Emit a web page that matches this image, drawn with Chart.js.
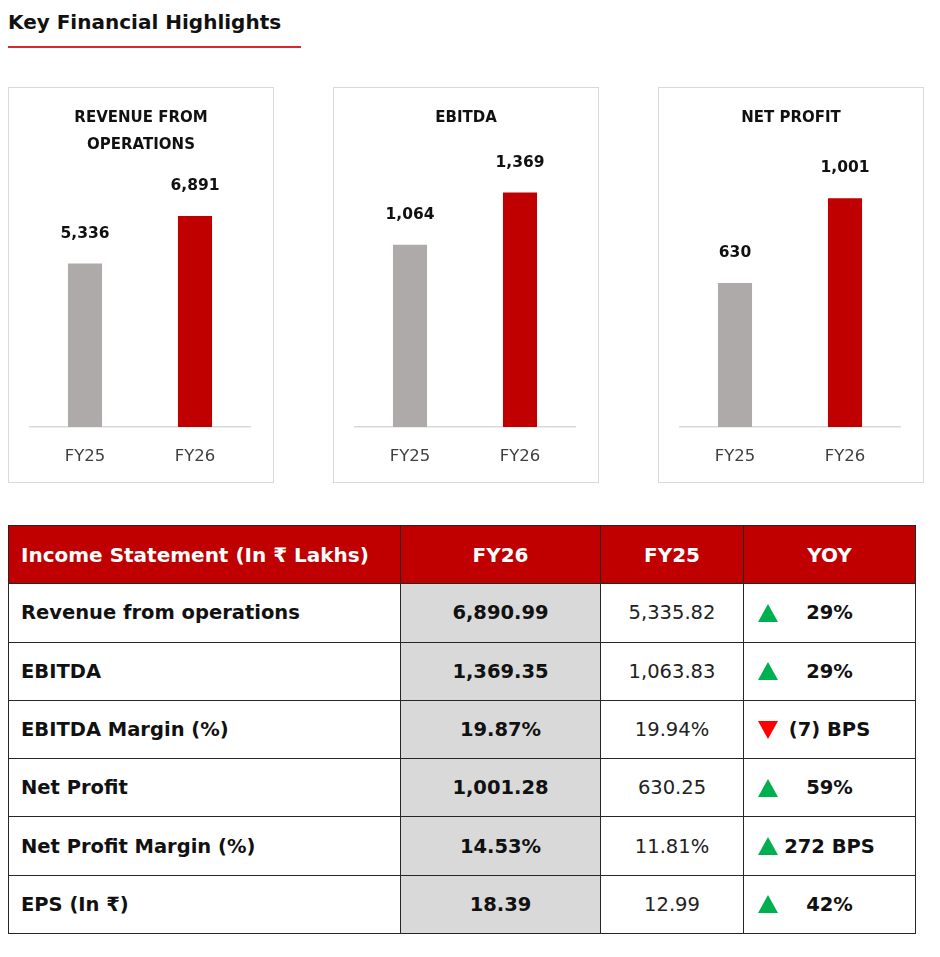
<!DOCTYPE html>
<html>
<head>
<meta charset="utf-8">
<script src="https://cdn.jsdelivr.net/npm/chart.js@4.4.0/dist/chart.umd.min.js"></script>
<style>
  html, body { margin:0; padding:0; background:#fff; }
  body { width:940px; height:957px; position:relative; font-family: "DejaVu Sans", "Noto Sans", sans-serif; overflow:hidden; }
  #mainTitle { position:absolute; left:8px; top:8px; font-size:20px; font-weight:700; color:#111; line-height:28px; white-space:nowrap; }
  #underline { position:absolute; left:8px; top:46px; width:293px; height:2px; background:#d9282f; }
  .panel { position:absolute; top:87px; width:264px; height:394px; border:1px solid #d9d9d9; }
  .panel canvas { position:absolute; left:-1px; top:-1px; }
  .ptitle { position:absolute; left:0; width:264px; top:16px; text-align:center; font-size:15px; font-weight:700; color:#111; line-height:27px; }
  table { position:absolute; left:8px; top:525px; border-collapse:collapse; table-layout:fixed; }
  td, th { border:1.5px solid #262626; height:57.3px; padding:0; font-size:19.5px; }
  th { background:#c00000; color:#fff; font-weight:700; font-size:20px; }
  th.first, td.first { text-align:left; padding-left:12px; }
  td.first { font-weight:700; color:#111; }
  td.fy26 { background:#d9d9d9; text-align:center; font-weight:700; color:#111; }
  td.fy25 { text-align:center; font-weight:400; color:#222; }
  td.yoy { text-align:center; font-weight:700; color:#111; position:relative; }
  .tri { position:absolute; left:14px; top:50%; width:0; height:0; }
  .tri.up { border-left:10px solid transparent; border-right:10px solid transparent; border-bottom:18px solid #00b050; margin-top:-9px; }
  .tri.down { border-left:10px solid transparent; border-right:10px solid transparent; border-top:18px solid #ff0000; margin-top:-9px; }
</style>
</head>
<body>
<div id="mainTitle">Key Financial Highlights</div>
<div id="underline"></div>

<div class="panel" style="left:8px"><canvas id="c0" width="266" height="396"></canvas><div class="ptitle" id="t0"></div></div>
<div class="panel" style="left:333px"><canvas id="c1" width="266" height="396"></canvas><div class="ptitle" id="t1"></div></div>
<div class="panel" style="left:658px"><canvas id="c2" width="266" height="396"></canvas><div class="ptitle" id="t2"></div></div>

<table id="tbl">
  <colgroup><col style="width:392px"><col style="width:200px"><col style="width:143px"><col style="width:172px"></colgroup>
  <thead><tr id="hdr"></tr></thead>
  <tbody id="tbody"></tbody>
</table>

<script>
// ---- Chart data ----
const categories = ['FY25', 'FY26'];
const revenueValues = [5335.82, 6890.99];
const ebitdaValues = [1063.83, 1369.35];
const netProfitValues = [630.25, 1001.28];
const chartTitles = [['REVENUE FROM', 'OPERATIONS'], ['EBITDA'], ['NET PROFIT']];
const axisMax = [8000, 1600, 1200];

// ---- Table data ----
const tableHeaders = ['Income Statement (In \u20B9 Lakhs)', 'FY26', 'FY25', 'YOY'];
const rowLabels = ['Revenue from operations', 'EBITDA', 'EBITDA Margin (%)', 'Net Profit', 'Net Profit Margin (%)', 'EPS (In \u20B9)'];
const fy26Values = ['6,890.99', '1,369.35', '19.87%', '1,001.28', '14.53%', '18.39'];
const fy25Values = ['5,335.82', '1,063.83', '19.94%', '630.25', '11.81%', '12.99'];
const yoyValues = ['29%', '29%', '(7) BPS', '59%', '272 BPS', '42%'];
const yoyDirection = ['up', 'up', 'down', 'up', 'up', 'up'];

const seriesList = [revenueValues, ebitdaValues, netProfitValues];
const barColors = ['#aeaaaa', '#c00000'];
const FONT = '"DejaVu Sans", "Noto Sans", sans-serif';

const valueLabelPlugin = {
  id: 'valueLabels',
  afterDatasetsDraw(chart) {
    const ctx = chart.ctx;
    const meta = chart.getDatasetMeta(0);
    const data = chart.data.datasets[0].data;
    ctx.save();
    ctx.font = '700 15.5px ' + FONT;
    ctx.fillStyle = '#111';
    ctx.textAlign = 'center';
    ctx.textBaseline = 'middle';
    meta.data.forEach((bar, i) => {
      const txt = Math.round(data[i]).toLocaleString('en-US');
      ctx.fillText(txt, bar.x, bar.y - 30);
    });
    ctx.restore();
  }
};

const topPads = [95, 66, 66];

seriesList.forEach((vals, k) => {
  document.getElementById('t' + k).innerHTML = chartTitles[k].join('<br>');
  new Chart(document.getElementById('c' + k), {
    type: 'bar',
    data: {
      labels: categories,
      datasets: [{ data: vals, backgroundColor: barColors, borderWidth: 0, barPercentage: 0.31, categoryPercentage: 1 }]
    },
    options: {
      responsive: false,
      animation: false,
      events: [],
      layout: { padding: { top: topPads[k], left: 22, right: 24, bottom: 0 } },
      plugins: { legend: { display: false }, tooltip: { enabled: false } },
      scales: {
        y: { display: false, min: 0, max: axisMax[k] },
        x: {
          grid: { display: false, drawTicks: false },
          border: { display: true, color: '#d9d9d9', width: 1.5 },
          ticks: { color: '#404040', font: { family: FONT, size: 16.5 }, padding: 20 },
          afterFit(scale) { scale.height = 56; }
        }
      }
    },
    plugins: [valueLabelPlugin]
  });
});

// ---- Table ----
const hdr = document.getElementById('hdr');
tableHeaders.forEach((h, i) => {
  const th = document.createElement('th');
  th.textContent = h;
  if (i === 0) th.className = 'first';
  hdr.appendChild(th);
});
const tbody = document.getElementById('tbody');
rowLabels.forEach((lab, r) => {
  const tr = document.createElement('tr');
  const c0 = document.createElement('td'); c0.className = 'first'; c0.textContent = lab;
  const c1 = document.createElement('td'); c1.className = 'fy26'; c1.textContent = fy26Values[r];
  const c2 = document.createElement('td'); c2.className = 'fy25'; c2.textContent = fy25Values[r];
  const c3 = document.createElement('td'); c3.className = 'yoy';
  const tri = document.createElement('span'); tri.className = 'tri ' + yoyDirection[r];
  c3.appendChild(tri);
  c3.appendChild(document.createTextNode(yoyValues[r]));
  tr.append(c0, c1, c2, c3);
  tbody.appendChild(tr);
});
</script>
</body>
</html>
